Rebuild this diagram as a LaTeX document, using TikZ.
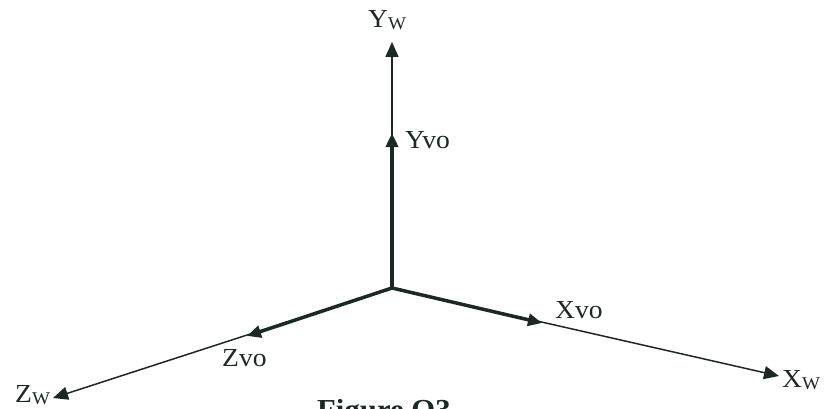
\documentclass[tikz,border=0pt]{standalone}
\usepackage{fontspec}
\setmainfont{Liberation Serif}
\usetikzlibrary{arrows.meta}
\definecolor{ink}{RGB}{28,40,34}
\newcommand{\wsub}{\raisebox{-2pt}{\fontsize{18}{20}\selectfont W}}
\begin{document}
\begin{tikzpicture}[x=1pt, y=1pt, ink,
  every node/.style={font=\fontsize{26}{30}\selectfont, text=ink, inner sep=0pt, anchor=base west, xscale=1.06},
  worldax/.style={line width=1.5pt, -{Triangle[length=15pt, width=13pt]}},
  vehax/.style={line width=3.5pt, -{Triangle[length=14pt, width=12pt]}}]
  \useasboundingbox (0,0) rectangle (825,408);
  \clip (0,0) rectangle (825,408);
  \coordinate (O) at (392,120);
  \coordinate (Yw) at (392,366);
  \coordinate (Yv) at (392,275);
  \coordinate (Xw) at (779,32);
  \coordinate (Xv) at (542,85);
  \coordinate (Zw) at (53,10);
  \coordinate (Zv) at (247,72);

  \draw[worldax] (O) -- (Yw);
  \draw[worldax] (O) -- (Xw);
  \draw[worldax] (O) -- (Zw);

  \draw[vehax] (O) -- (Yv);
  \draw[vehax] (O) -- (Xv);
  \draw[vehax] (O) -- (Zv);

  \node (yw lbl) at (368,380) {Y\wsub};
  \node (yv lbl) at (405,260) {Yvo};
  \node (xv lbl) at (555,90) {Xvo};
  \node (xw lbl) at (782,21) {X\wsub};
  \node (zv lbl) at (222,42) {Zvo};
  \node (zw lbl) at (15,6) {Z\wsub};
  \node[font=\fontsize{29}{32}\selectfont\bfseries, xscale=1] (caption) at (317,-11) {Figure Q3};
\end{tikzpicture}
\end{document}
